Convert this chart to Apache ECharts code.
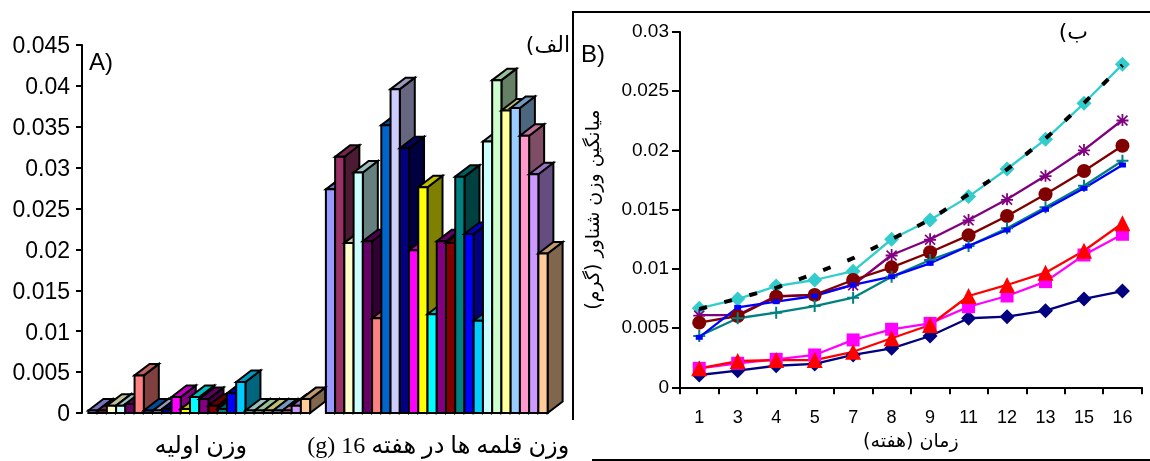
<!DOCTYPE html>
<html><head><meta charset="utf-8">
<style>html,body{margin:0;padding:0;background:#fff}#c{width:1150px;height:461px}</style>
<script src="https://cdn.jsdelivr.net/npm/echarts@6/dist/echarts.min.js"></script>
</head><body><div id="c"></div>
<script>
const barCategories = ['وزن اولیه', '\u202Bوزن قلمه ها در هفته 16 (g)\u202C'];
const barColors = ['#9999FF','#993366','#FFFFCC','#CCFFFF','#660066','#FF8080','#0066CC','#CCCCFF','#000080','#FF00FF','#FFFF00','#00FFFF','#800080','#800000','#008080','#0000FF','#00CCFF','#CCFFFF','#CCFFCC','#FFFF99','#99CCFF','#FF99CC','#CC99FF','#FFCC99'];
const initialWeight = [0.0003,0.0003,0.0009,0.0009,0.0011,0.0046,0.0003,0.0003,0.0005,0.00195,0.0005,0.00195,0.0017,0.0009,0.0005,0.0024,0.0038,0.0003,0.0003,0.0003,0.0003,0.0003,0.0009,0.0017];
const week16Weight = [0.02735,0.03134,0.0208,0.0294,0.021,0.01158,0.0352,0.0396,0.03236,0.0199,0.0276,0.01207,0.021,0.0208,0.0289,0.0219,0.01129,0.0332,0.0407,0.037,0.0373,0.0339,0.0292,0.0195];

const weeks = ['1','3','4','5','7','8','9','11','12','13','15','16'];
const navyDiamond = [0.00104,0.0014,0.00182,0.00197,0.00273,0.00329,0.00433,0.00583,0.00596,0.00647,0.00746,0.00813];
const magentaSquare = [0.0016,0.00203,0.00236,0.00273,0.004,0.0049,0.0054,0.0068,0.00771,0.00892,0.01117,0.01292];
const redTriangle = [0.0016,0.00222,0.0023,0.0023,0.003,0.00414,0.00526,0.00771,0.00864,0.00968,0.01153,0.01385];
const cyanDiamond = [0.00667,0.00745,0.00855,0.00906,0.0098,0.0125,0.01413,0.0161,0.01843,0.02094,0.02398,0.02727];
const purpleStar = [0.0061,0.0061,0.0077,0.0078,0.00864,0.01117,0.0125,0.01413,0.01587,0.01787,0.02004,0.02257];
const maroonCircle = [0.00546,0.00602,0.00765,0.0078,0.00906,0.01013,0.0114,0.01283,0.01446,0.0163,0.01826,0.0204];
const tealPlus = [0.00433,0.00583,0.0063,0.00686,0.00757,0.00934,0.01075,0.01193,0.01342,0.0152,0.01702,0.01913];
const blueDash = [0.00422,0.00675,0.00723,0.00771,0.00864,0.00934,0.01047,0.01193,0.01328,0.01503,0.0168,0.01877];
const blackDashed = [0.0066,0.0075,0.0084,0.0096,0.0109,0.0125,0.01415,0.0163,0.0184,0.021,0.024,0.0272];

const plusPath = 'path://M-1,-6H1V-1H6V1H1V6H-1V1H-6V-1H-1Z';
const starPath = 'path://M-0.9,-6H0.9V-1.5L4.4,-4.9 5.6,-3.7 2.2,-0.4H6V1.4H2.2L5.6,4.7 4.4,5.9 0.9,2.5V6H-0.9V2.5L-4.4,5.9 -5.6,4.7 -2.2,1.4H-6V-0.4H-2.2L-5.6,-3.7 -4.4,-4.9 -0.9,-1.5Z';
const blueRect = 'path://M-3,-1.5H3V1.5H-3Z';

const arabic = '"DejaVu Sans"';
function shade(hex, f) {
  const n = parseInt(hex.slice(1), 16);
  const c = s => Math.round(((n >> s) & 255) * f);
  return `rgb(${c(16)},${c(8)},${c(0)})`;
}
const barSeries = barColors.map((color, i) => ({
  type: 'custom',
  xAxisIndex: 0, yAxisIndex: 0,
  clip: false,
  z: 2 + i * 0.01,
  encode: { x: 0, y: 1 },
  data: [[0, initialWeight[i]], [1, week16Weight[i]]],
  renderItem(params, api) {
    const band = api.size([1, 0])[0];
    const w = band * 0.0389;
    const top = api.coord([api.value(0), api.value(1)]);
    const base = api.coord([api.value(0), 0]);
    const x = top[0] - 1.5 + (i - 12) * w;
    const dx = 15, dy = 11.5;
    const line = { stroke: '#000', lineWidth: 2, lineJoin: 'miter' };
    return { type: 'group', children: [
      { type: 'polygon', shape: { points: [[x + w, top[1]], [x + w + dx, top[1] - dy], [x + w + dx, base[1] - dy], [x + w, base[1]]] }, style: { fill: shade(color, 0.5), ...line } },
      { type: 'polygon', shape: { points: [[x, top[1]], [x + dx, top[1] - dy], [x + w + dx, top[1] - dy], [x + w, top[1]]] }, style: { fill: shade(color, 0.75), ...line } },
      { type: 'rect', shape: { x, y: top[1], width: w, height: base[1] - top[1] }, style: { fill: color, ...line } }
    ] };
  }
}));
function lineS(data, color, symbol, size, extra) {
  return Object.assign({
    type: 'line', xAxisIndex: 1, yAxisIndex: 1, data, symbol, symbolSize: size,
    showAllSymbol: true, animation: false,
    lineStyle: { color, width: 2.3 }, itemStyle: { color, borderWidth: 0 }
  }, extra || {});
}
const lineSeries = [
  lineS(navyDiamond, '#000080', 'diamond', 15),
  lineS(magentaSquare, '#FF00FF', 'rect', 13),
  lineS(redTriangle, '#FF0000', 'triangle', 16),
  lineS(cyanDiamond, '#33CCCC', 'diamond', 15),
  lineS(purpleStar, '#800080', starPath, 12),
  lineS(maroonCircle, '#800000', 'circle', 14),
  lineS(tealPlus, '#008080', plusPath, 12),
  lineS(blueDash, '#0000FF', blueRect, [7, 5]),
  lineS(blackDashed, '#000000', 'none', 1, { z: 10, lineStyle: { color: '#000', width: 4, type: [8, 18] } })
];
const tx = (x, y, text, size, family, align) => ({ type: 'text', x, y, z: 20, style: { text, fontSize: size, fontFamily: family, fill: '#000', align: align || 'left', verticalAlign: 'middle' } });
const frame = (x1, y1, x2, y2) => ({ type: 'line', z: 20, shape: { x1, y1, x2, y2 }, style: { stroke: '#000', lineWidth: 2 } });

const chart = echarts.init(document.getElementById('c'), null, { renderer: 'canvas' });
chart.setOption({
  animation: false,
  backgroundColor: '#fff',
  grid: [
    { left: 82, top: 45, width: 475, height: 368 },
    { left: 680, top: 32, width: 461.7, height: 355.3 }
  ],
  xAxis: [
    { type: 'category', gridIndex: 0, data: barCategories, axisLine: { show: false }, axisTick: { show: false },
      axisLabel: { interval: 0, hideOverlap: false, margin: 22, fontSize: 24, fontFamily: '"Liberation Serif",' + arabic, color: '#000' } },
    { type: 'category', gridIndex: 1, data: weeks, boundaryGap: true,
      axisLine: { lineStyle: { color: '#000', width: 2 } }, axisTick: { show: true, length: 7, alignWithLabel: false, lineStyle: { color: '#000', width: 2 } },
      axisLabel: { interval: 0, margin: 22, fontSize: 18, fontFamily: '"Liberation Sans"', color: '#000' },
      name: 'زمان (هفته)', nameLocation: 'middle', nameGap: 37, nameTextStyle: { fontSize: 19, fontFamily: arabic, color: '#000' } }
  ],
  yAxis: [
    { type: 'value', gridIndex: 0, min: 0, max: 0.045, interval: 0.005, splitLine: { show: false },
      axisLine: { show: true, lineStyle: { color: '#000', width: 2 } }, axisTick: { show: true, length: 6, lineStyle: { color: '#000', width: 2 } },
      axisLabel: { margin: 12, formatter: v => '{t|' + v + '}', rich: { t: { fontSize: 23, padding: [4, 0, 0, 0], fontFamily: '"Liberation Sans"', color: '#000' } } } },
    { type: 'value', gridIndex: 1, min: 0, max: 0.03, interval: 0.005, splitLine: { show: false },
      axisLine: { show: true, lineStyle: { color: '#000', width: 2 } }, axisTick: { show: true, length: 8, lineStyle: { color: '#000', width: 2 } },
      axisLabel: { margin: 11, fontSize: 19, fontFamily: '"Liberation Sans"', color: '#000' },
      name: 'میانگین وزن شناور (گرم)', nameLocation: 'middle', nameRotate: 90, nameGap: 76, nameTextStyle: { fontSize: 19, fontFamily: arabic, color: '#000' } }
  ],
  series: [...barSeries, ...lineSeries],
  graphic: [
    frame(573, 12, 1150, 12), frame(573, 11, 573, 420), frame(592, 460, 1150, 460),
    tx(89, 63, 'A)', 24, '"Liberation Sans"'),
    tx(581, 55, 'B)', 24, '"Liberation Sans"'),
    tx(570, 46, '\u202Bالف)\u202C', 22, arabic, 'right'),
    tx(1088, 33, '\u202Bب)\u202C', 22, arabic, 'right')
  ]
});
</script></body></html>
